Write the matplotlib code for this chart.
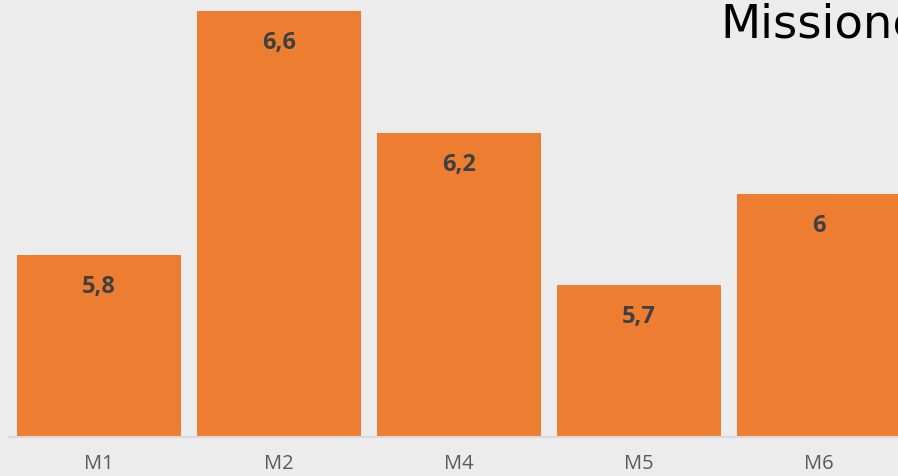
import matplotlib
matplotlib.use("Agg")
import matplotlib.pyplot as plt

categories = ["M1", "M2", "M4", "M5", "M6"]
values = [5.8, 6.6, 6.2, 5.7, 6.0]
labels = ["5,8", "6,6", "6,2", "5,7", "6"]
title = "Missione"

W, H = 898, 476
fig = plt.figure(figsize=(W / 100, H / 100), dpi=100)
fig.patch.set_facecolor("#ECECEC")

base_px = 437
ax = fig.add_axes([9 / W, (H - base_px) / H, 1 - 9 / W, base_px / H])
ax.set_facecolor("#ECECEC")
ppu = 304.0
ymin = 5.2
ax.set_ylim(ymin, ymin + base_px / ppu)
ax.set_xlim(-0.5, (W - 99) / 180.0)

x = list(range(len(categories)))
bars = ax.bar(x, [v - ymin for v in values], bottom=ymin, width=164 / 180,
              color="#ED7D31", zorder=2)
for xi, v, lab in zip(x, values, labels):
    ax.annotate(lab, (xi, v), xytext=(0, -32), textcoords="offset pixels",
                ha="center", va="center", fontsize=17, fontweight="bold",
                color="#404040", family="Open Sans", zorder=3)

for s in ["top", "right", "left"]:
    ax.spines[s].set_visible(False)
ax.spines["bottom"].set_color("#D9D9D9")
ax.spines["bottom"].set_linewidth(1.5)
ax.set_yticks([])
ax.set_xticks(x)
ax.set_xticklabels(categories, fontsize=14.5, color="#595959", family="Open Sans")
ax.tick_params(axis="x", length=0, pad=12)

fig.text(720 / W, 1 - 38 / H, title, fontsize=33.5, color="#000000",
         family="DejaVu Sans", ha="left", va="baseline")

fig.savefig("out.png", dpi=100, facecolor=fig.get_facecolor())
